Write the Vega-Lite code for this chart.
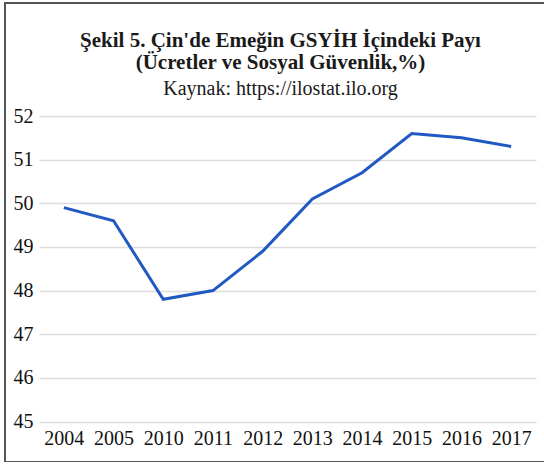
{
  "$schema": "https://vega.github.io/schema/vega-lite/v6.json",
  "width": 541,
  "height": 459,
  "autosize": {"type": "none"},
  "padding": {"left": 5, "top": 3, "right": 0, "bottom": 0},
  "background": "white",
  "title": {
    "text": ["Şekil 5. Çin'de Emeğin GSYİH İçindeki Payı", "(Ücretler ve Sosyal Güvenlik,%)"],
    "subtitle": "Kaynak: https://ilostat.ilo.org",
    "font": "Liberation Serif",
    "fontSize": 21,
    "fontWeight": "bold",
    "color": "#1a1a1a",
    "lineHeight": 22,
    "subtitleFont": "Liberation Serif",
    "subtitleFontSize": 20,
    "subtitleColor": "#1a1a1a",
    "subtitlePadding": 6,
    "anchor": "middle",
    "frame": "group",
    "dx": 5,
    "offset": -96
  },
  "data": {
    "values": [
      {"year": "2004", "value": 49.9},
      {"year": "2005", "value": 49.6},
      {"year": "2010", "value": 47.8},
      {"year": "2011", "value": 48.0},
      {"year": "2012", "value": 48.9},
      {"year": "2013", "value": 50.1},
      {"year": "2014", "value": 50.7},
      {"year": "2015", "value": 51.6},
      {"year": "2016", "value": 51.5},
      {"year": "2017", "value": 51.3}
    ]
  },
  "mark": {"type": "line", "color": "#2159c2", "strokeWidth": 3},
  "encoding": {
    "x": {
      "field": "year",
      "type": "ordinal",
      "sort": null,
      "scale": {"type": "point", "padding": 0.5, "range": [34, 531]},
      "axis": {
        "title": null,
        "labelAngle": 0,
        "domain": false,
        "ticks": false,
        "tickSize": 0,
        "labelPadding": 0,
        "offset": -18,
        "labelBaseline": "alphabetic",
        "labelFont": "Liberation Serif",
        "labelFontSize": 20,
        "labelColor": "#111111",
        "grid": false
      }
    },
    "y": {
      "field": "value",
      "type": "quantitative",
      "scale": {"domain": [45, 52], "range": [418.5, 113], "zero": false, "nice": false},
      "axis": {
        "title": null,
        "values": [45, 46, 47, 48, 49, 50, 51, 52],
        "grid": true,
        "gridColor": "#dcdcdc",
        "gridWidth": 1.5,
        "domain": false,
        "ticks": false,
        "tickSize": 0,
        "labelPadding": 0,
        "offset": -28,
        "labelFont": "Liberation Serif",
        "labelFontSize": 20,
        "labelColor": "#111111"
      }
    }
  },
  "config": {
    "font": "Liberation Serif",
    "axis": {"labelFont": "Liberation Serif"},
    "view": {"stroke": "#555555", "strokeWidth": 2}
  }
}
